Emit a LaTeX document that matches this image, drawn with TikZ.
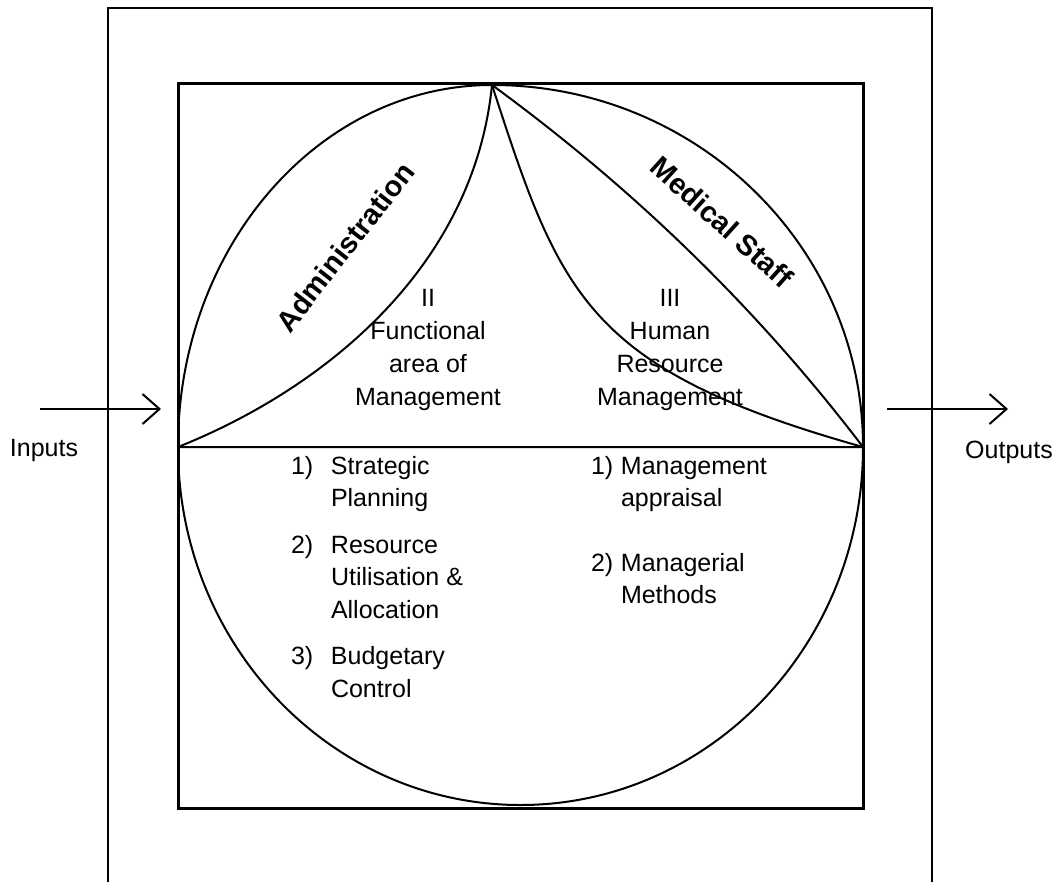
\documentclass[tikz,border=0pt]{standalone}
\usepackage{fontspec}
\setmainfont{Liberation Sans}
\usetikzlibrary{arrows.meta}
\newcommand{\lnum}[1]{\makebox[40pt][l]{#1}}
\newcommand{\rnum}[1]{\makebox[30pt][l]{#1}}
\tikzset{
    lbl/.style={inner sep=0pt, font=\fontsize{25}{33}\selectfont},
    listlbl/.style={inner sep=0pt, align=left, anchor=north west, font=\fontsize{25}{32.5}\selectfont},
    zone/.style={inner sep=0pt, font=\fontsize{29}{33}\selectfont\bfseries},
    flow/.style={line width=2pt, -{Straight Barb[length=17pt, width=30pt]}},
}
\begin{document}
\begin{tikzpicture}[x=1pt, y=-1pt, line width=2pt]
    \useasboundingbox (0,0) rectangle (1062,881);
    \draw [line width=2.5pt] (108,882) -- (108,8) -- (932,8) -- (932,882);
    \draw [line width=3pt] (178,83) rectangle (863,808);

    \coordinate (left) at (178,447);
    \coordinate (top) at (492,85);
    \coordinate (right) at (863,447);
    \coordinate (bottom) at (520.5,805);

    \draw (left) .. controls +(0,-200) and +(-173,0) .. (top)
          .. controls +(205,0) and +(0,-200) .. (right)
          .. controls +(0,198) and +(189,0) .. (bottom)
          .. controls +(-189,0) and +(0,198) .. (left) -- (right);
    \draw (left) .. controls +(150,-60) and +(-18,180) .. (top);
    \draw (top) .. controls +(68,209) and +(-278,-78) .. (right);
    \draw (top) .. controls +(141,103) and +(-106,-139) .. (right);

    \node [zone, rotate=52] (admin) at (345,247) {Administration};
    \node [zone, rotate=-42] (staff) at (722,222) {Medical Staff};

    \node [lbl, align=center, anchor=north] (func) at (428,288) {II\\Functional\\area of\\Management};
    \node [lbl, align=center, anchor=north] (hrm) at (670,288) {III\\Human\\Resource\\Management};

    \node [listlbl] (funclist) at (290,455) {\lnum{1)}Strategic\\\lnum{}Planning\\[14pt]\lnum{2)}Resource\\\lnum{}Utilisation \&\\\lnum{}Allocation\\[14pt]\lnum{3)}Budgetary\\\lnum{}Control};
    \node [listlbl] (hrmlist) at (590,455) {\rnum{1)}Management\\\rnum{}appraisal\\[32pt]\rnum{2)}Managerial\\\rnum{}Methods};

    \coordinate (in a) at (40,409);
    \coordinate (in b) at (161,409);
    \coordinate (out a) at (887,409);
    \coordinate (out b) at (1008,409);
    \draw [flow] (in a) -- (in b);
    \draw [flow] (out a) -- (out b);
    \node [lbl] (inputs) at (44,450) {Inputs};
    \node [lbl] (outputs) at (1009,452) {Outputs};
\end{tikzpicture}
\end{document}
